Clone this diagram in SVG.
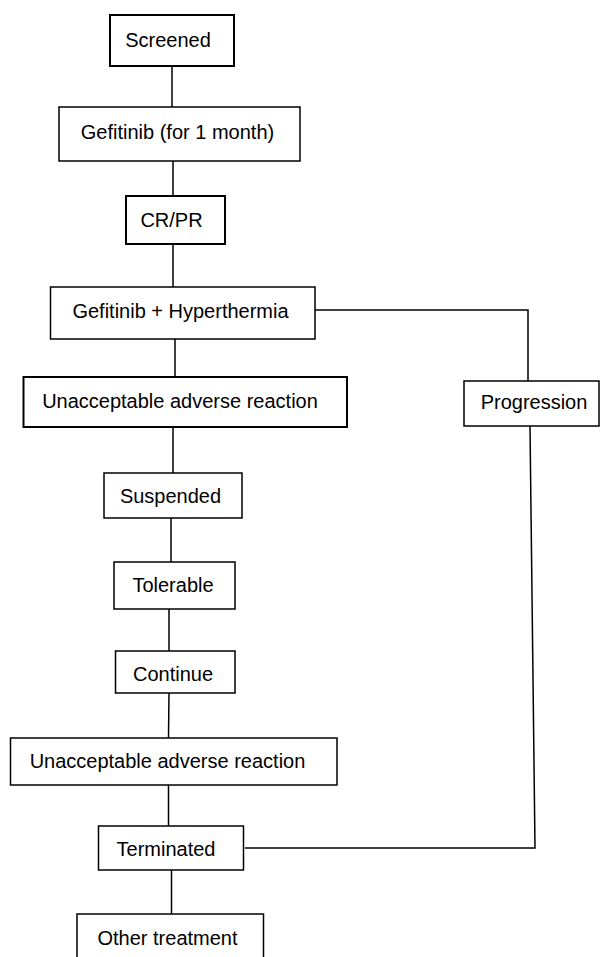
<svg xmlns="http://www.w3.org/2000/svg" width="600" height="957" viewBox="0 0 600 957">
<style>
.box{fill:#fff;stroke:#000;stroke-width:1.5}
.thick{stroke-width:2}
.lbl{font-family:"Liberation Sans",Arial,sans-serif;font-size:20px;fill:#000;text-anchor:middle}
.con{fill:none;stroke:#000;stroke-width:1.5}
</style>
<rect width="600" height="957" fill="#fff"/>
<g id="connectors">
<path class="con" d="M172,66V107"/>
<path class="con" d="M173,161V196"/>
<path class="con" d="M173,244V287"/>
<path class="con" d="M175,339V377"/>
<path class="con" d="M315,310H528V381"/>
<path class="con" d="M173,427V473"/>
<path class="con" d="M171,518V562"/>
<path class="con" d="M169,609V651"/>
<path class="con" d="M169,693L168.5,738"/>
<path class="con" d="M168.5,785V826"/>
<path class="con" d="M530,426L535,848H245"/>
<path class="con" d="M171.5,870V914"/>
</g>
<g id="screened"><rect class="box thick" x="110" y="15" width="124" height="51"/><text class="lbl" x="168" y="47">Screened</text></g>
<g id="gefitinib"><rect class="box" x="59" y="107" width="241" height="54"/><text class="lbl" x="177.5" y="139">Gefitinib (for 1 month)</text></g>
<g id="crpr"><rect class="box thick" x="126" y="196" width="99" height="48"/><text class="lbl" x="171.5" y="227">CR/PR</text></g>
<g id="gefitinib-hyperthermia"><rect class="box" x="50.5" y="287" width="264.5" height="52"/><text class="lbl" x="180.5" y="318">Gefitinib + Hyperthermia</text></g>
<g id="unacceptable1"><rect class="box thick" x="23.5" y="377" width="323.5" height="50"/><text class="lbl" x="180" y="408">Unacceptable adverse reaction</text></g>
<g id="progression"><rect class="box" x="464" y="381" width="135" height="45"/><text class="lbl" x="534" y="409">Progression</text></g>
<g id="suspended"><rect class="box" x="104" y="473" width="138" height="45"/><text class="lbl" x="170.5" y="503">Suspended</text></g>
<g id="tolerable"><rect class="box" x="114" y="562" width="121" height="47"/><text class="lbl" x="173" y="592">Tolerable</text></g>
<g id="continue"><rect class="box" x="115.5" y="651" width="119.5" height="42"/><text class="lbl" x="173" y="681">Continue</text></g>
<g id="unacceptable2"><rect class="box" x="10.5" y="738" width="326.5" height="47"/><text class="lbl" x="167.5" y="768">Unacceptable adverse reaction</text></g>
<g id="terminated"><rect class="box" x="98.5" y="826" width="145" height="44"/><text class="lbl" x="166" y="856">Terminated</text></g>
<g id="other-treatment"><rect class="box" x="77" y="914" width="186.5" height="46"/><text class="lbl" x="167.5" y="945">Other treatment</text></g>
</svg>
